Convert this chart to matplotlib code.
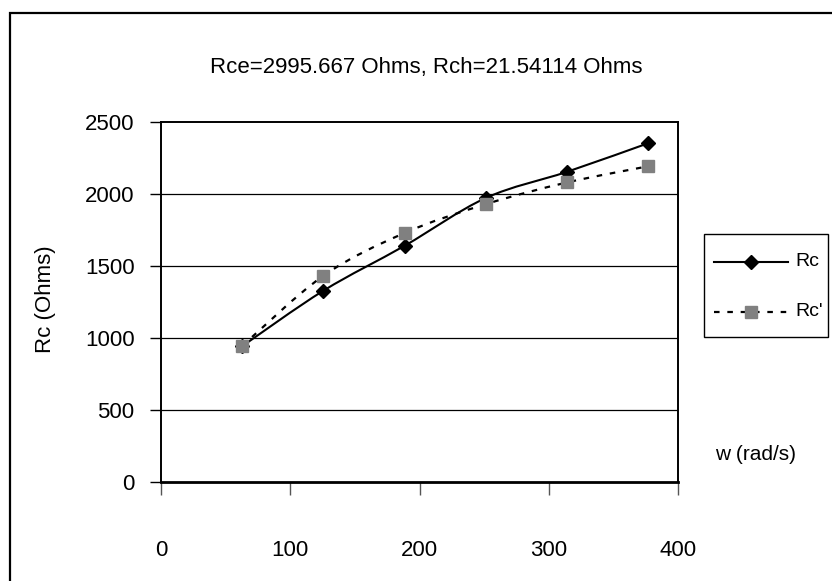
import matplotlib
matplotlib.use('Agg')
import matplotlib.pyplot as plt
import numpy as np
from matplotlib.path import Path
from matplotlib.patches import PathPatch, Rectangle
from matplotlib.lines import Line2D

# dados
w = [62.8, 125.7, 188.5, 251.3, 314.2, 376.8]
rc = [940, 1326, 1638, 1970, 2152, 2350]
rc_linha = [942, 1430, 1727, 1927, 2078, 2190]

titulo = 'Rce=2995.667 Ohms, Rch=21.54114 Ohms'
rotulo_y = 'Rc (Ohms)'
rotulo_x = 'w (rad/s)'
nomes_series = ['Rc', "Rc'"]
ticks_x = [0, 100, 200, 300, 400]
ticks_y = [0, 500, 1000, 1500, 2000, 2500]

plt.rcParams['font.family'] = ['Liberation Sans', 'DejaVu Sans']

LARG, ALT = 832, 581


def fx(px):
    return px / LARG


def fy(py):
    return 1 - py / ALT


def caminho_suave(xs, ys):
    # curva suavizada estilo Excel (Catmull-Rom -> Bezier)
    pts = np.column_stack([xs, ys]).astype(float)
    n = len(pts)
    verts = [pts[0]]
    codes = [Path.MOVETO]
    for i in range(n - 1):
        p0 = pts[i - 1] if i > 0 else pts[i]
        p1 = pts[i]
        p2 = pts[i + 1]
        p3 = pts[i + 2] if i + 2 < n else pts[i + 1]
        c1 = p1 + (p2 - p0) / 6.0
        c2 = p2 - (p3 - p1) / 6.0
        verts += [c1, c2, p2]
        codes += [Path.CURVE4] * 3
    return Path(verts, codes)


fig = plt.figure(figsize=(LARG / 100, ALT / 100), dpi=100)
ax = fig.add_axes([fx(161), fy(481.5), fx(678) - fx(161), fy(121.7) - fy(481.5)])

ax.set_xlim(0, 400)
ax.set_ylim(0, 2500)

for v in ticks_y[1:-1]:
    ax.axhline(v, color='black', lw=0.9, zorder=1)

ax.add_patch(PathPatch(caminho_suave(w, rc), fill=False, edgecolor='black',
                       lw=1.5, zorder=3))
ax.plot(w, rc, linestyle='none', marker='D', ms=7.5, color='black', zorder=4)

ax.add_patch(PathPatch(caminho_suave(w, rc_linha), fill=False, edgecolor='black',
                       lw=1.6, linestyle=(0, (2.5, 3.5)), zorder=5))
ax.plot(w, rc_linha, linestyle='none', marker='s', ms=8, color='#808080',
        mec='#808080', zorder=6)

ax.set_xticks(ticks_x)
ax.set_yticks(ticks_y)
ax.tick_params(axis='y', direction='out', length=8, width=1, labelsize=16,
               pad=11, color='black')
ax.tick_params(axis='x', direction='out', length=9, width=1, labelsize=16,
               pad=33, color='#555555')

for lado in ['left', 'right', 'top']:
    ax.spines[lado].set_linewidth(1.4)
ax.spines['bottom'].set_linewidth(2.0)

ax.set_ylabel(rotulo_y, fontsize=16)
ax.yaxis.set_label_coords(-0.203, 0.507)

fig.text(fx(426), fy(68), titulo, ha='center', va='center', fontsize=16)
fig.text(fx(756), fy(455), rotulo_x, ha='center', va='center', fontsize=15)

# legenda desenhada a mao
fig.add_artist(Rectangle((fx(704), fy(337)), fx(828) - fx(704), fy(234) - fy(337),
                         transform=fig.transFigure, fill=False,
                         edgecolor='black', lw=1.0))
fig.add_artist(Line2D([fx(714), fx(788)], [fy(262), fy(262)], color='black',
                      lw=1.5, transform=fig.transFigure))
fig.add_artist(Line2D([fx(751)], [fy(262)], marker='D', ms=7.5, color='black',
                      transform=fig.transFigure))
fig.add_artist(Line2D([fx(714), fx(788)], [fy(312), fy(312)], color='black',
                      lw=1.6, linestyle=(0, (2.5, 3.5)), transform=fig.transFigure))
fig.add_artist(Line2D([fx(751)], [fy(312)], marker='s', ms=8, color='#808080',
                      mec='#808080', transform=fig.transFigure))
fig.text(fx(795), fy(262), nomes_series[0], ha='left', va='center', fontsize=14)
fig.text(fx(795), fy(312), nomes_series[1], ha='left', va='center', fontsize=14)

# moldura externa do grafico
fig.add_artist(Rectangle((fx(10), -0.1), 1.2, fy(13) + 0.1,
                         transform=fig.transFigure, fill=False,
                         edgecolor='black', lw=1.6))

fig.savefig('out.png', dpi=100)
